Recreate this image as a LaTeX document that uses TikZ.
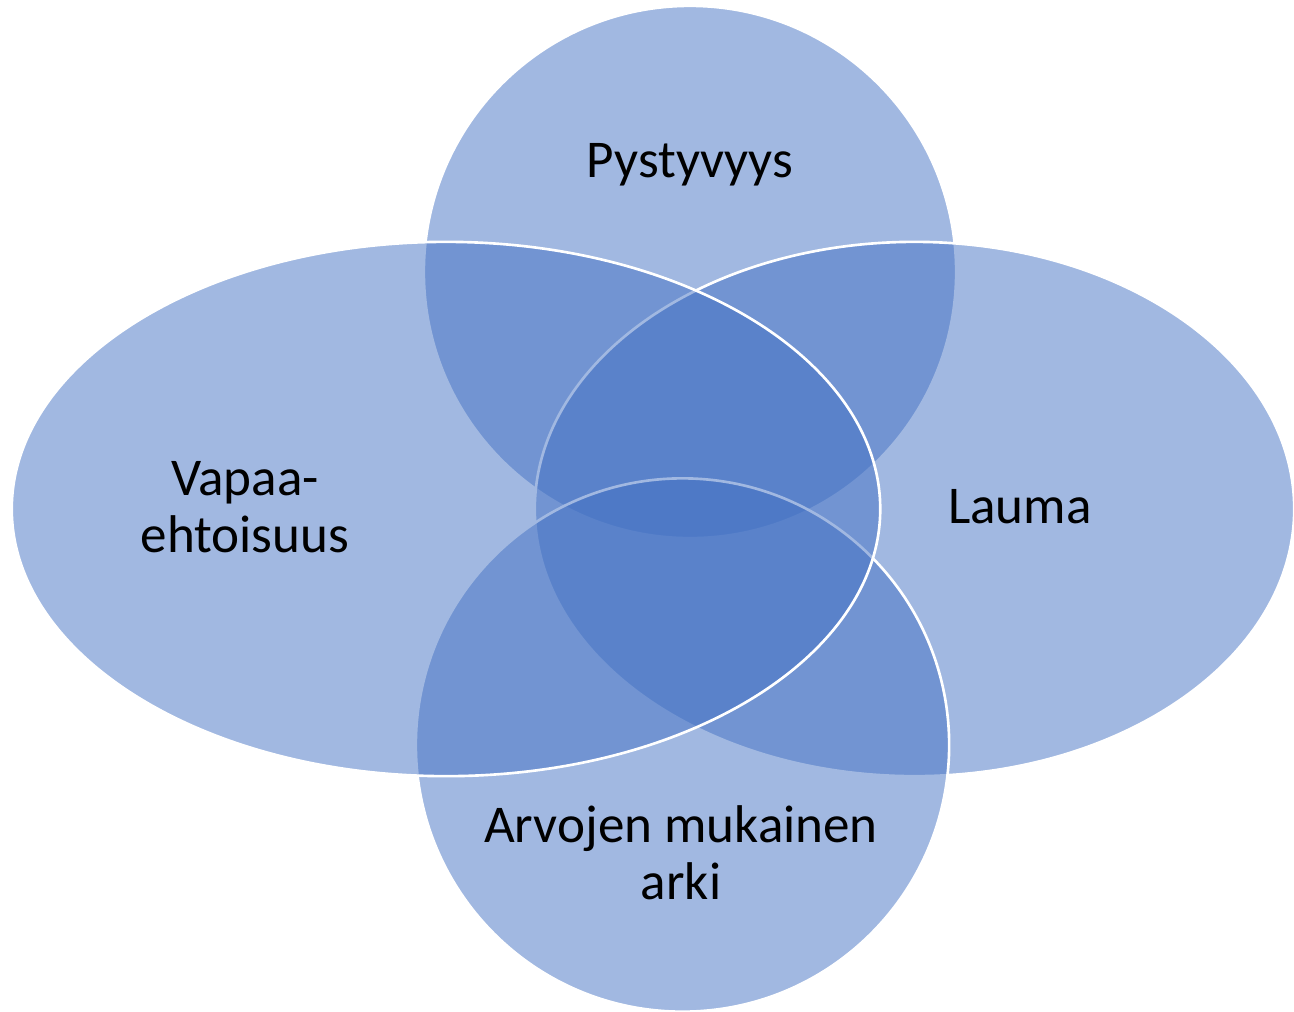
\documentclass[tikz,border=0pt]{standalone}
\usepackage{fontspec}
\setmainfont{Carlito}
\usetikzlibrary{shapes.geometric}
\definecolor{venn}{HTML}{4472C4}
\begin{document}
\begin{tikzpicture}[x=0.01cm,y=-0.01cm,
  venshape/.style={ellipse, draw=white, line width=0.75pt, fill=venn, fill opacity=0.5, draw opacity=1, inner sep=0pt, outer sep=0pt},
  lbl/.style={font=\fontsize{15.1}{16.4}\selectfont, text=black, inner sep=0pt, anchor=base}]
\fill[white] (0,0) rectangle (1294,1011);
\useasboundingbox (0,0) rectangle (1294,1011);
\node[venshape, minimum width=5.32cm, minimum height=5.32cm] (topc) at (690,272) {};
\node[venshape, minimum width=7.59cm, minimum height=5.34cm] (righte) at (914.5,509) {};
\node[venshape, minimum width=5.33cm, minimum height=5.33cm] (botc) at (682.5,745) {};
\node[venshape, minimum width=8.68cm, minimum height=5.34cm] (lefte) at (446,509) {};
\node[lbl] (tlabel) at (690,177) {Pystyvyys};
\node[lbl] (rlabel) at (1020,523) {Lauma};
\node[lbl] (llabel) at (245,495) {\begin{tabular}[t]{@{}c@{}}Vapaa-\\ehtoisuus\end{tabular}};
\node[lbl] (blabel) at (681,842) {\begin{tabular}[t]{@{}c@{}}Arvojen mukainen\\arki\end{tabular}};
\end{tikzpicture}
\end{document}
